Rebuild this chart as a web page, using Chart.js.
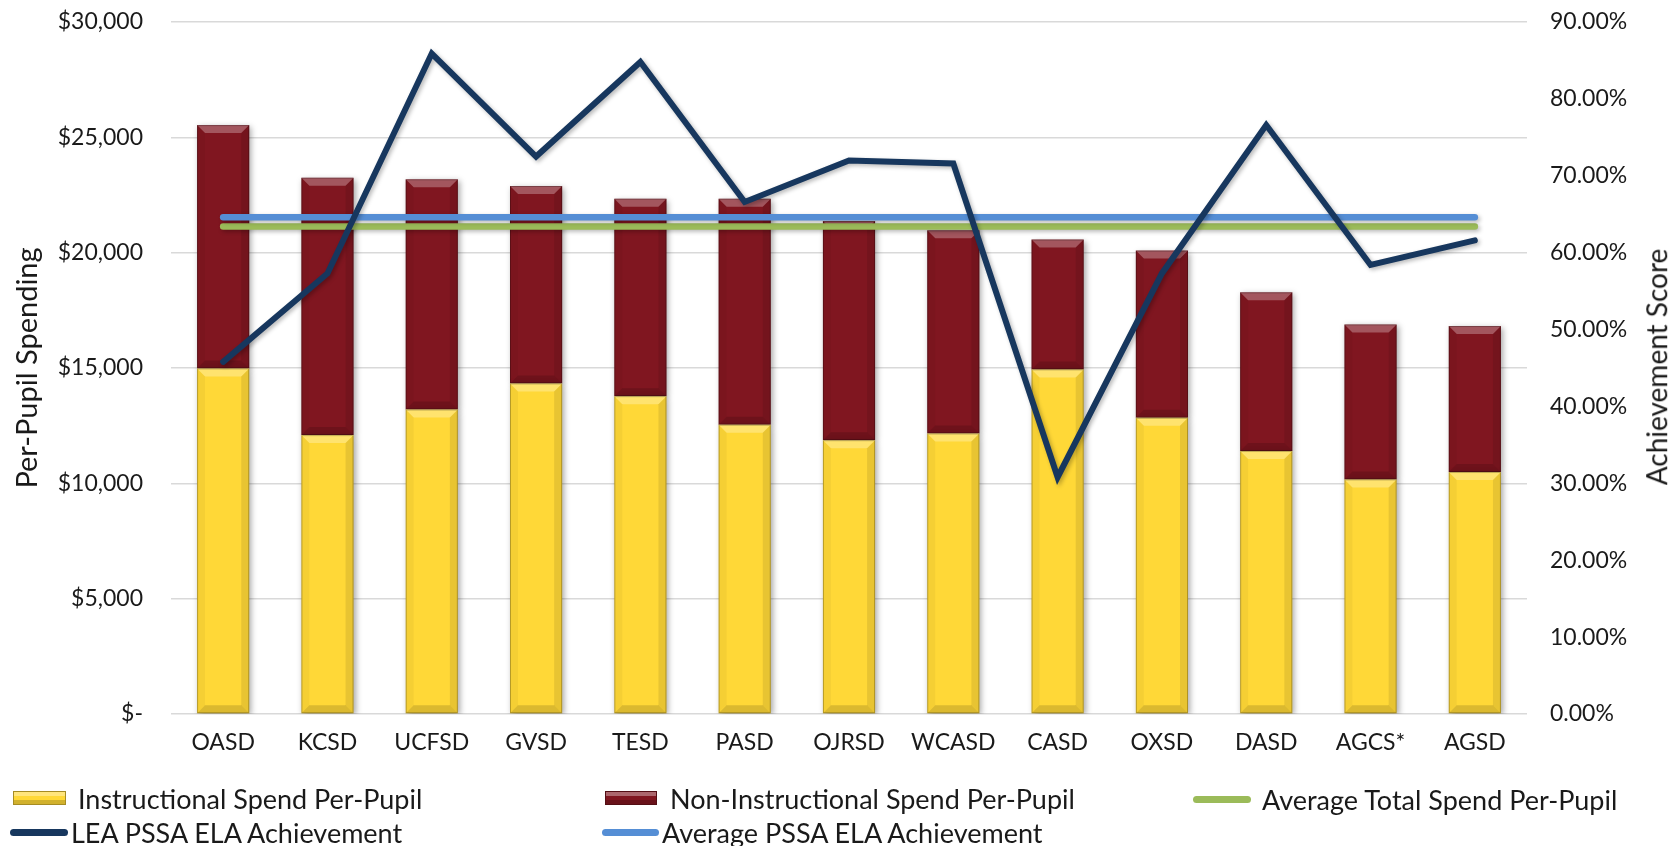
<!DOCTYPE html>
<html>
<head>
<meta charset="utf-8">
<script src="https://cdn.jsdelivr.net/npm/chart.js@4.4.1/dist/chart.umd.min.js"></script>
<style>
    body { margin: 0; background: #fff; }
    #wrap { position: relative; width: 1669px; height: 846px; font-family: Lato, "Open Sans", sans-serif; color: #1a1a1a; overflow: hidden; }
    #chart { position: absolute; left: 0; top: 0; }
    .legend-item { position: absolute; height: 30px; display: flex; align-items: center; font-size: 27px; white-space: nowrap; }
    .swatch-bar { height: 14px; box-sizing: border-box; box-shadow: inset 0 4px 0 rgba(255,255,255,0.35), inset 0 -4px 0 rgba(0,0,0,0.18); border: 1px solid rgba(0,0,0,0.35); }
    .swatch-line { height: 7px; border-radius: 4px; }
    #rightTitle { position: absolute; left: 1657px; top: 367px; transform: translate(-50%, -50%) rotate(-90deg); font-size: 28px; line-height: 1.2; white-space: nowrap; }
</style>
</head>
<body>
<div id="wrap">
    <canvas id="chart" width="1669" height="846"></canvas>
    <div id="rightTitle">Achievement Score</div>
</div>
<script>
// Data
const categories = ['OASD', 'KCSD', 'UCFSD', 'GVSD', 'TESD', 'PASD', 'OJRSD', 'WCASD', 'CASD', 'OXSD', 'DASD', 'AGCS*', 'AGSD'];
const instructional = [14980, 12090, 13200, 14330, 13780, 12540, 11870, 12160, 14940, 12840, 11400, 10170, 10490];
const nonInstructional = [10550, 11160, 9980, 8560, 8560, 9800, 9500, 8810, 5630, 7250, 6880, 6720, 6330];
const avgTotalSpend = [21130, 21130, 21130, 21130, 21130, 21130, 21130, 21130, 21130, 21130, 21130, 21130, 21130];
const leaAchievement = [45.8, 57.3, 85.9, 72.5, 84.8, 66.6, 72.0, 71.6, 30.8, 57.3, 76.6, 58.4, 61.6];
const avgAchievement = [64.6, 64.6, 64.6, 64.6, 64.6, 64.6, 64.6, 64.6, 64.6, 64.6, 64.6, 64.6, 64.6];

const YELLOW = '#FFD837';
const MAROON = '#801620';
const GREEN = '#9BBB59';
const NAVY = '#17375E';
const BLUE = '#558ED5';

// drop shadow + bevel look like the Excel original
const shadowPlugin = {
    id: 'shadows',
    beforeDatasetDraw(chart, args) {
        const ctx = chart.ctx;
        ctx.save();
        const isBar = args.meta.type === 'bar';
        ctx.shadowColor = isBar ? 'rgba(0,0,0,0.35)' : 'rgba(0,0,0,0.28)';
        ctx.shadowBlur = isBar ? 6 : 4;
        ctx.shadowOffsetX = 2;
        ctx.shadowOffsetY = 2;
    },
    afterDatasetDraw(chart, args) {
        const ctx = chart.ctx;
        ctx.restore();
        if (args.meta.type !== 'bar') return;
        const b = 8;
        args.meta.data.forEach(bar => {
            const p = bar.getProps(['x', 'y', 'base', 'width'], true);
            const L = p.x - p.width / 2, R = p.x + p.width / 2;
            const T = Math.min(p.y, p.base), B = Math.max(p.y, p.base);
            const poly = (pts, color) => {
                ctx.beginPath();
                ctx.moveTo(pts[0][0], pts[0][1]);
                for (let i = 1; i < pts.length; i++) ctx.lineTo(pts[i][0], pts[i][1]);
                ctx.closePath();
                ctx.fillStyle = color;
                ctx.fill();
            };
            ctx.save();
            poly([[L, T], [R, T], [R - b, T + b], [L + b, T + b]], 'rgba(255,255,255,0.28)');
            poly([[L, B], [R, B], [R - b, B - b], [L + b, B - b]], 'rgba(0,0,0,0.14)');
            poly([[L, T], [L + b, T + b], [L + b, B - b], [L, B]], 'rgba(0,0,0,0.04)');
            poly([[R, T], [R - b, T + b], [R - b, B - b], [R, B]], 'rgba(0,0,0,0.09)');
            ctx.strokeStyle = 'rgba(0,0,0,0.25)';
            ctx.lineWidth = 1;
            ctx.strokeRect(L + 0.5, T + 0.5, R - L - 1, B - T - 1);
            ctx.restore();
        });
    }
};

const ctx = document.getElementById('chart').getContext('2d');
const chart = new Chart(ctx, {
    data: {
        labels: categories,
        datasets: [
            {
                type: 'bar',
                label: 'Instructional Spend Per-Pupil',
                data: instructional,
                backgroundColor: YELLOW,
                yAxisID: 'y',
                order: 3
            },
            {
                type: 'bar',
                label: 'Non-Instructional Spend Per-Pupil',
                data: nonInstructional,
                backgroundColor: MAROON,
                yAxisID: 'y',
                order: 4
            },
            {
                type: 'line',
                label: 'Average Total Spend Per-Pupil',
                data: avgTotalSpend,
                borderColor: GREEN,
                borderWidth: 6.5,
                borderCapStyle: 'round',
                pointRadius: 0,
                yAxisID: 'y',
                order: 2
            },
            {
                type: 'line',
                label: 'LEA PSSA ELA Achievement',
                data: leaAchievement,
                borderColor: NAVY,
                borderWidth: 6,
                borderCapStyle: 'round',
                borderJoinStyle: 'miter',
                pointRadius: 0,
                tension: 0,
                yAxisID: 'y1',
                order: 0
            },
            {
                type: 'line',
                label: 'Average PSSA ELA Achievement',
                data: avgAchievement,
                borderColor: BLUE,
                borderWidth: 6.5,
                borderCapStyle: 'round',
                pointRadius: 0,
                yAxisID: 'y1',
                order: 1
            }
        ]
    },
    options: {
        responsive: false,
        animation: false,
        layout: { padding: { top: 22, left: 0, right: 0, bottom: 0 } },
        datasets: {
            bar: { categoryPercentage: 1.0, barPercentage: 0.5 }
        },
        plugins: {
            legend: { display: false },
            tooltip: { enabled: false }
        },
        scales: {
            x: {
                stacked: true,
                grid: { display: false, drawTicks: false },
                border: { display: false },
                ticks: { padding: 15, color: '#1a1a1a', font: { family: 'Lato', size: 23 } },
                afterFit(scale) { scale.height = 132; }
            },
            y: {
                stacked: true,
                position: 'left',
                min: 0,
                max: 30000,
                // invisible tick marks push the labels away from the plot
                grid: { color: '#d9d9d9', lineWidth: 1.5, drawTicks: true, tickLength: 28, tickColor: 'rgba(0,0,0,0)' },
                border: { display: false },
                ticks: {
                    stepSize: 5000,
                    padding: 0,
                    color: '#1a1a1a',
                    font: { family: 'Lato', size: 23 },
                    callback: function(value) {
                        return value === 0 ? '$-' : '$' + value.toLocaleString('en-US');
                    }
                },
                title: {
                    display: true,
                    text: 'Per-Pupil Spending',
                    color: '#1a1a1a',
                    font: { family: 'Lato', size: 29 },
                    padding: { top: 10, bottom: 0 }
                },
                afterFit(scale) { scale.width = 171; }
            },
            y1: {
                stacked: false,
                position: 'right',
                min: 0,
                max: 90,
                grid: { display: false, drawTicks: true, tickLength: 23 },
                border: { display: false },
                ticks: {
                    stepSize: 10,
                    padding: 0,
                    color: '#1a1a1a',
                    font: { family: 'Lato', size: 23 },
                    callback: function(value) {
                        return value.toFixed(2) + '%';
                    }
                },
                afterFit(scale) { scale.width = 142; }
            }
        }
    },
    plugins: [shadowPlugin]
});

// Legend laid out in the same three-column grid as the original
const legendSlots = [
    { left: 13, top: 783, icon: 53, gap: 12 },
    { left: 605, top: 783, icon: 52, gap: 13 },
    { left: 1193, top: 784, icon: 58, gap: 11 },
    { left: 10, top: 817, icon: 58, gap: 3 },
    { left: 602, top: 817, icon: 57, gap: 3 }
];
const wrap = document.getElementById('wrap');
chart.data.datasets.forEach((ds, i) => {
    const slot = legendSlots[i];
    const item = document.createElement('div');
    item.className = 'legend-item';
    item.style.left = slot.left + 'px';
    item.style.top = slot.top + 'px';
    const sw = document.createElement('span');
    sw.className = ds.type === 'bar' ? 'swatch-bar' : 'swatch-line';
    sw.style.width = slot.icon + 'px';
    sw.style.background = ds.type === 'bar' ? ds.backgroundColor : ds.borderColor;
    sw.style.marginRight = slot.gap + 'px';
    const txt = document.createElement('span');
    txt.textContent = ds.label;
    item.appendChild(sw);
    item.appendChild(txt);
    wrap.appendChild(item);
});
</script>
</body>
</html>
